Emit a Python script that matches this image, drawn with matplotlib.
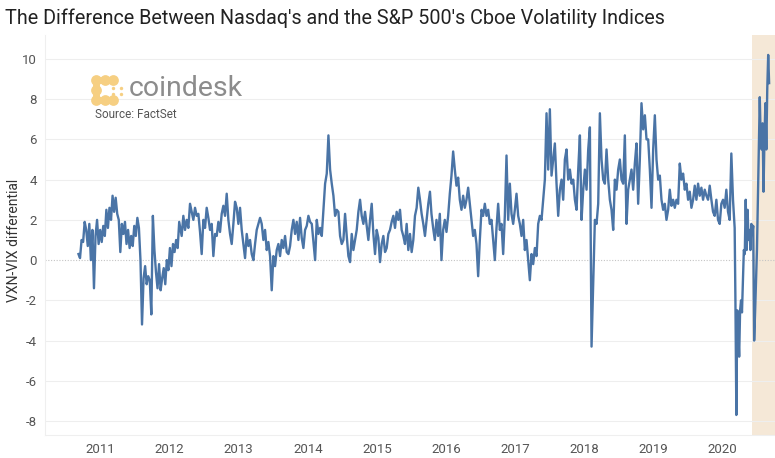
import pandas as pd
import matplotlib
matplotlib.use("Agg")
import matplotlib.pyplot as plt

# VXN minus VIX. Each segment: (first date, last date), values evenly spaced
seg_a_dates = ("2010-09-08", "2012-02-22")
seg_a = [0.3, 0.1, 1.0, 0.9, 1.9, 1.5, 0.7, 1.8, 0.0, 1.5,
         -1.4, 1.2, 2.0, 0.8, 1.5, 0.9, 1.7, 1.2, 2.5, 1.6,
         2.6, 2.0, 3.2, 2.4, 3.1, 2.3, 2.0, 0.4, 1.8, 1.3,
         1.9, 0.8, 1.5, 0.6, 1.2, 0.7, 1.7, 1.2, 2.1, 1.6,
         0.0, -3.2, -0.9, -0.3, -1.2, -0.8, -1.0, -2.7, 2.2, 0.5,
         -0.6, -1.4, -0.2, -1.5, -0.9, -0.4, -1.2, 0.0, -0.5, 0.6,
         -0.3, 0.8, 0.4, 1.0, 0.6, 1.9]

seg_b_dates = ("2012-03-06", "2014-01-13")
seg_b = [1.2, 2.2, 1.5, 2.0, 1.6, 2.8, 2.4, 2.0, 2.6, 2.2,
         2.3, 1.4, 0.3, 2.0, 1.6, 2.6, 2.1, 1.5, 1.8, 0.2,
         1.3, 1.2, 1.9, 1.4, 2.3, 2.7, 2.2, 3.3, 2.0, 1.3,
         0.8, 1.8, 2.9, 2.6, 1.8, 2.6, 1.5, 0.8, 0.1, 1.3,
         0.7, 1.0, 0.3, 0.0, 0.8, 1.5, 1.8, 2.1, 1.8, 1.0,
         1.5, 0.5, 0.9, 0.2, -1.5, 0.2, -0.3, 0.5, 0.8, 0.2,
         1.0, 0.6, 1.2, 0.4, 0.3, 0.7, 1.5, 2.0, 1.3, 1.9,
         1.0, 2.1, 1.1, 0.6, 1.5, 1.7, 2.2, 1.9]

seg_c_dates = ("2014-01-22", "2015-10-08")
seg_c = [1.8, 0.9, 0.0, 2.0, 1.3, 1.6, 1.2, 2.5, 3.8, 4.3,
         6.2, 4.5, 3.8, 3.2, 2.2, 2.5, 2.4, 1.2, 0.8, 1.0,
         2.3, 1.2, 0.2, -0.1, 1.3, 0.5, 1.0, 1.5, 2.4, 3.0,
         2.2, 1.8, 2.4, 1.7, 1.0, 2.0, 2.8, 1.3, 0.3, 1.5,
         1.1, -0.1, 0.8, 1.2, 0.4, 0.6, 1.3, 1.5, 1.9, 2.2,
         1.6, 2.4, 2.0, 2.5, 1.5, 1.2, 0.8, 1.8, 0.5, 1.3,
         0.4, 1.0, 2.2, 2.6, 3.6, 3.0, 2.3, 1.8, 1.2, 2.0,
         2.8, 3.4]

seg_d_dates = ("2015-10-16", "2017-10-07")
seg_d = [2.3, 1.6, 1.0, 2.0, 1.2, 2.3, 0.0, 1.5, 2.0, 1.4,
         2.2, 3.3, 4.2, 5.4, 4.5, 3.7, 4.1, 3.0, 2.5, 3.2,
         2.6, 3.0, 3.6, 2.8, 2.0, 1.2, 1.5, 0.8, -0.8, 1.0,
         2.5, 2.2, 2.8, 2.2, 2.5, 1.8, 2.0, 1.0, 0.0, 1.6,
         2.8, 1.5, 1.8, 0.3, 2.2, 5.2, 2.0, 3.8, 2.3, 1.8,
         2.5, 3.3, 2.2, 1.8, 1.2, 2.0, 0.5, 1.0, 0.0, -1.0,
         0.3, -0.2, 0.6, 0.2, 1.8, 2.2, 2.0, 3.0, 4.0, 7.3,
         4.5, 7.5, 4.2, 5.0, 5.8, 3.8, 2.2, 3.5, 4.0, 3.0,
         5.0, 5.5, 4.0]

seg_e_dates = ("2017-10-16", "2018-10-29")
seg_e = [4.5, 3.8, 4.0, 3.0, 2.5, 4.5, 6.2, 2.0, 3.5, 4.5,
         3.5, 5.5, 6.6, -4.3, -1.2, 2.0, 1.8, 2.8, 7.3, 5.0,
         4.0, 3.8, 5.5, 4.0, 3.0, 2.5, 1.5, 4.0, 3.5, 4.5,
         5.0, 4.0, 3.8, 6.2, 1.8, 3.5, 4.0, 4.5, 3.5, 4.8,
         5.8, 2.8, 5.0, 7.8]

seg_f_dates = ("2018-11-07", "2020-03-04")
seg_f = [6.5, 7.2, 6.0, 6.0, 4.5, 2.6, 5.5, 7.2, 5.0, 4.0,
         4.2, 3.0, 2.5, 2.8, 2.0, 2.5, 3.5, 2.7, 3.0, 2.6,
         3.0, 2.8, 4.8, 4.0, 4.3, 3.5, 3.8, 3.0, 3.4, 2.6,
         3.0, 3.7, 3.0, 3.8, 3.2, 3.6, 3.0, 3.5, 3.2, 3.0,
         3.7, 3.0, 2.4, 2.2, 3.0, 2.0, 1.8, 2.8, 3.0, 2.6,
         3.5, 2.4, 2.0, 5.3, 3.0, 1.6]

seg_g_dates = ("2020-03-08", "2020-09-02")
seg_g = [-2.0, -7.7, -2.5, -3.5, -4.8, -2.5, -2.0, -2.6, -1.0, 0.5,
         0.3, 3.0, 0.5, 2.5, 1.0, 1.5, 0.5, 1.8, 1.3, 1.7,
         -4.0, -2.6, -1.0, 0.5, 3.0, 5.5, 8.1, 6.0, 5.5, 6.8,
         3.4, 6.0, 7.8, 5.5, 8.5, 10.2, 8.8]

segments = [(seg_a_dates, seg_a), (seg_b_dates, seg_b), (seg_c_dates, seg_c),
            (seg_d_dates, seg_d), (seg_e_dates, seg_e), (seg_f_dates, seg_f),
            (seg_g_dates, seg_g)]

shade_start = "2020-06-01"
years = list(range(2011, 2021))
y_ticks = list(range(-8, 11, 2))

parts = []
for (start, end), vals in segments:
    idx = pd.date_range(start, end, periods=len(vals))
    parts.append(pd.Series(vals, index=idx))
series = pd.concat(parts)

fig = plt.figure(figsize=(7.75, 4.58), dpi=100)
ax = fig.add_axes([0.058, 0.05, 0.942, 0.874])

x_min = pd.Timestamp("2010-03-15")
x_max = pd.Timestamp("2020-10-03")
ax.axvspan(pd.Timestamp(shade_start), x_max, color="#f5e8d7", lw=0, zorder=0)

for v in y_ticks:
    if v == 0:
        ax.axhline(v, color="#c4c4c4", lw=0.8, ls=(0, (1, 1.5)), zorder=1)
    else:
        ax.axhline(v, color="#eeeeee", lw=0.8, zorder=1)

ax.plot(series.index, series.values, color="#4a74a6", lw=1.7,
        solid_joinstyle="round", zorder=3)

ax.set_xlim(x_min, x_max)
ax.set_ylim(-8.7, 11.2)
ax.set_yticks(y_ticks)
ax.set_yticklabels([str(v) for v in y_ticks])
ax.set_xticks([pd.Timestamp(f"{y}-01-01") for y in years])
ax.set_xticklabels([str(y) for y in years])
ax.tick_params(length=0, labelsize=9.5, labelcolor="#555555", pad=6)
for lab in ax.get_xticklabels() + ax.get_yticklabels():
    lab.set_family("Roboto")

for side in ["top", "right"]:
    ax.spines[side].set_visible(False)
for side in ["left", "bottom"]:
    ax.spines[side].set_color("#efefef")
    ax.spines[side].set_linewidth(0.8)

fig.text(0.007, 0.96, "The Difference Between Nasdaq's and the S&P 500's Cboe Volatility Indices",
         fontsize=14.2, family="Roboto", color="#222222", va="center", ha="left")
fig.text(0.018, 0.476, "VXN-VIX differential", rotation=90, fontsize=10,
         family="Roboto", color="#333333", va="center", ha="center")

# coindesk logo
logo_c = "#f6cf82"
logo = fig.add_axes([0.118, 0.77, 0.045, 0.068])
logo.set_xlim(-0.6, 3.6)
logo.set_ylim(-0.6, 2.6)
logo.axis("off")
logo.scatter([0, 1, 2, 0, 0, 1, 2], [2, 2, 2, 1, 0, 0, 0], s=60, color=logo_c, lw=0)
logo.plot([0, 2], [2, 2], color=logo_c, lw=5, solid_capstyle="round")
logo.plot([0, 2], [0, 0], color=logo_c, lw=5, solid_capstyle="round")
logo.plot([0, 0], [0, 2], color=logo_c, lw=5, solid_capstyle="round")
logo.scatter([2, 3, 2, 3], [1.2, 1.2, 0.6, 0.6], s=6, color=logo_c, lw=0)
fig.text(0.166, 0.806, "coindesk", fontsize=20.5, family="Roboto", color="#8c8c8c",
         va="center", ha="left")
fig.text(0.122, 0.75, "Source: FactSet", fontsize=8.5, family="Roboto",
         color="#555555", va="center", ha="left")

fig.savefig("out.png", dpi=100)
